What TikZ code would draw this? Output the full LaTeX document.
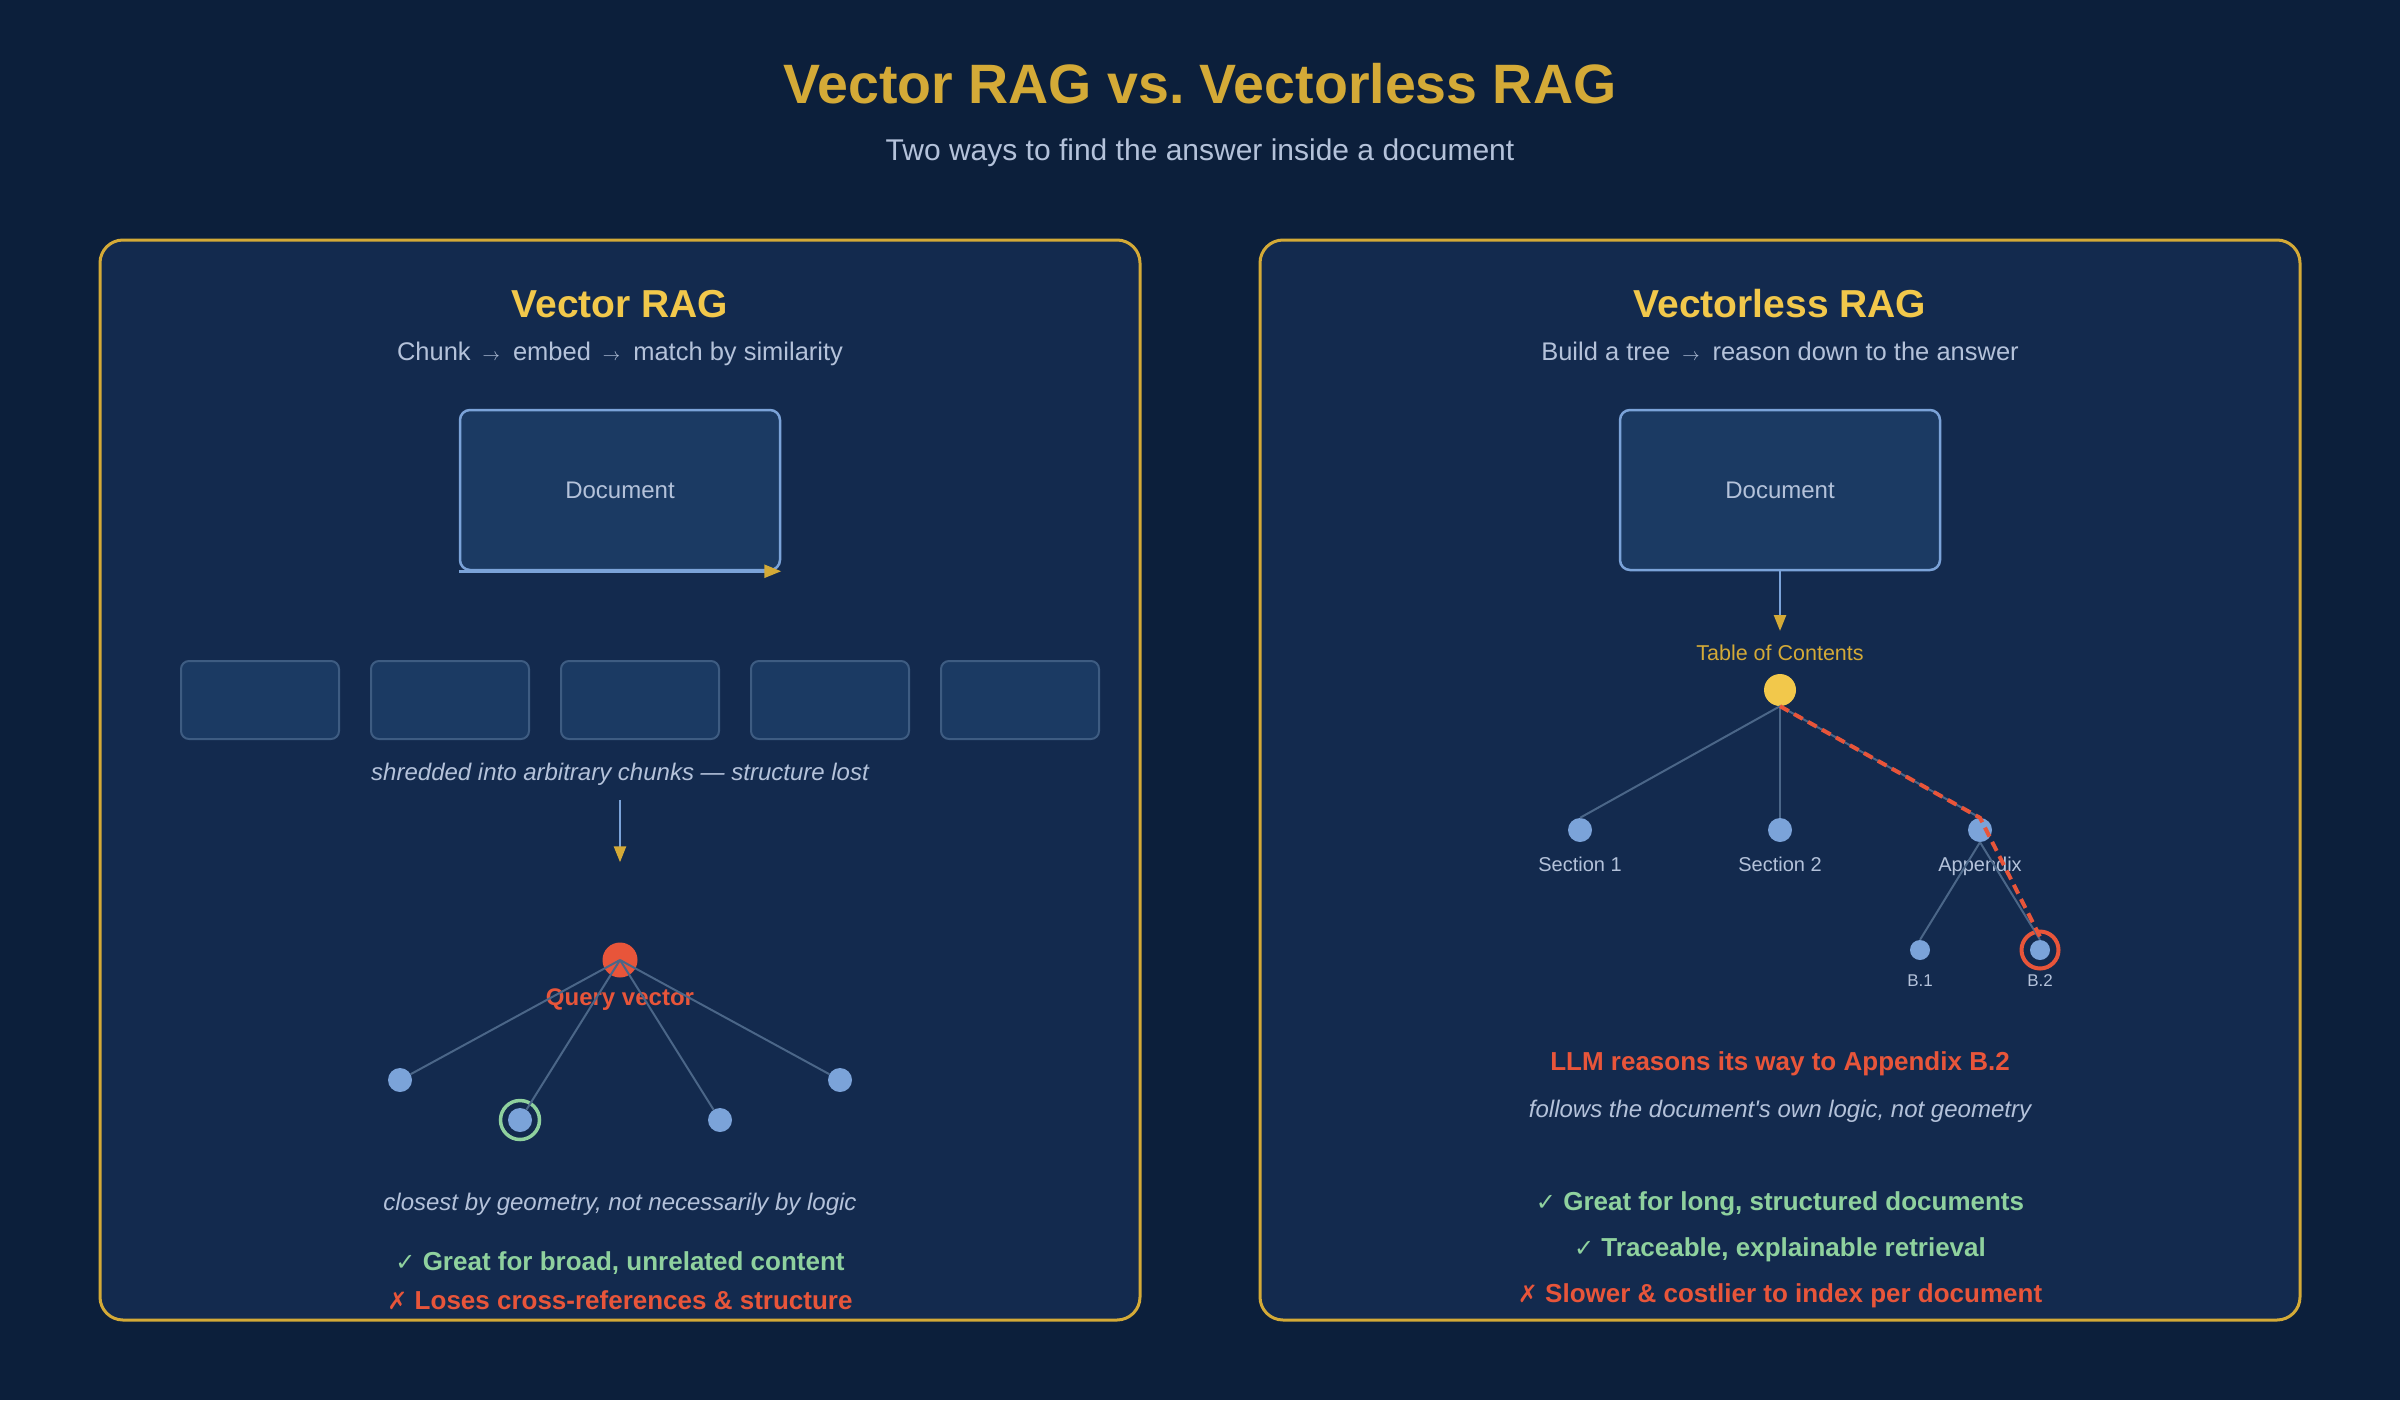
\documentclass[tikz,border=0pt]{standalone}
\usepackage{fontspec}
\setmainfont{Liberation Sans}
\newfontfamily\symfont{DejaVu Sans}
\newfontfamily\nolig{Liberation Sans}
\usetikzlibrary{arrows.meta}
\definecolor{bg}{HTML}{0C1F3B}
\definecolor{panelbg}{HTML}{132A4E}
\definecolor{gold}{HTML}{D4AA37}
\definecolor{ptitle}{HTML}{F2C84B}
\definecolor{muted}{HTML}{B4C2DA}
\definecolor{boxbg}{HTML}{1B3A63}
\definecolor{lblue}{HTML}{7BA3D9}
\definecolor{chunkline}{HTML}{3E5C82}
\definecolor{edgec}{HTML}{4B6688}
\definecolor{redc}{HTML}{E8553A}
\definecolor{greenc}{HTML}{8FD19E}
\newcommand\setfs[1]{\fontsize{#1}{#1}\selectfont}
\newcommand\rarr{\hspace{12pt}{\fontsize{16}{16}\selectfont$\rightarrow$}\hspace{13pt}}
\newcommand\okmark{{\symfont\mdseries\setfs{24}✓}}
\newcommand\nomark{{\symfont\mdseries\setfs{24}✗}}
\frenchspacing
\begin{document}
\begin{tikzpicture}[x=1pt,y=-1pt,
  txt/.style={inner sep=0pt, anchor=base, text=muted},
  panel/.style={draw=gold, line width=3pt, fill=panelbg, rounded corners=23pt, minimum width=1040pt, minimum height=1080pt, inner sep=0pt},
  docbox/.style={draw=lblue, line width=2.5pt, fill=boxbg, rounded corners=10pt, minimum width=320pt, minimum height=160pt, inner sep=0pt, text=muted, font=\setfs{24}},
  chunk/.style={draw=chunkline, line width=2pt, fill=boxbg, rounded corners=8pt, minimum width=158pt, minimum height=78pt, inner sep=0pt},
  leaf/.style={circle, fill=lblue, inner sep=0pt, minimum size=24pt},
  smallleaf/.style={circle, fill=lblue, inner sep=0pt, minimum size=20pt},
  edge/.style={draw=edgec, line width=2pt},
  conn/.style={draw=lblue, line width=2.5pt, -{Triangle[length=16pt,width=12pt,color=gold]}},
  redpath/.style={draw=redc, line width=4pt, dash pattern=on 10pt off 6pt},
]
% background
\fill[bg] (0,0) rectangle (2400,1400);
\useasboundingbox (0,0) rectangle (2400,1400);

% title
\node[txt, text=gold, font=\setfs{55.5}\bfseries] (title) at (1200,103) {Vector RAG vs. Vectorless RAG};
\node[txt, font=\setfs{30}] (subtitle) at (1200,160) {Two ways to find the answer inside a document};

% panels
\node[panel] (pL) at (620,780) {};
\node[panel] (pR) at (1780,780) {};

% ---------------- left panel ----------------
\node[txt, text=ptitle, font=\setfs{39}\bfseries] (tL) at (620,317) {Vector RAG};
\node[txt, font=\setfs{25.5}] (sL) at (620,360) {Chunk\rarr embed\rarr match by similarity};

\node[docbox] (docL) at (620,490) {Document};
\draw[draw=lblue, line width=2.5pt, -{Triangle[length=17pt,width=13pt,color=gold]}] (docL.south west) -- (docL.south east);

\node[chunk] (c1) at (260,700) {};
\node[chunk] (c2) at (450,700) {};
\node[chunk] (c3) at (640,700) {};
\node[chunk] (c4) at (830,700) {};
\node[chunk] (c5) at (1020,700) {};

\node[txt, font=\setfs{24}\itshape] (shred) at (620,780) {shredded into arbitrary chunks — structure lost};

% query vector
\node[circle, fill=redc, inner sep=0pt, minimum size=35pt] (q) at (620,960) {};
\node[txt, text=redc, font=\setfs{24}\bfseries] (qlab) at (620,1005) {Query vector};
\node[leaf] (l1) at (400,1080) {};
\node[circle, draw=greenc, line width=3.5pt, inner sep=0pt, minimum size=39pt] (l2ring) at (520,1120) {};
\node[leaf] (l2) at (520,1120) {};
\node[leaf] (l3) at (720,1120) {};
\node[leaf] (l4) at (840,1080) {};
\draw[edge] (q.center) -- (l1);
\draw[edge] (q.center) -- (l2);
\draw[edge] (q.center) -- (l3);
\draw[edge] (q.center) -- (l4);

\draw[conn] ([yshift=-15pt]shred.south) -- ([yshift=80pt]q.north);

\node[txt, font=\setfs{24}\itshape] (geo) at (620,1210) {closest by geometry, not necessarily by logic};
\node[txt, text=greenc, font=\setfs{26}\bfseries] (proL) at (620,1270) {\okmark{} Great for broad, unrelated content};
\node[txt, text=redc, font=\setfs{26}\bfseries] (conL) at (620,1309) {\nomark{} Loses cross-references \& structure};

% ---------------- right panel ----------------
\node[txt, text=ptitle, font=\setfs{39}\bfseries] (tR) at (1780,317) {Vectorless RAG};
\node[txt, font=\setfs{25.5}] (sR) at (1780,360) {Build a tree\rarr reason down to the answer};

\node[docbox] (docR) at (1780,490) {Document};
\node[txt, text=gold, font=\setfs{21.5}] (toclab) at (1780,660) {Table of Contents};
\draw[conn] (docR.south) -- (1780,631);

\node[circle, fill=ptitle, inner sep=0pt, minimum size=32pt] (toc) at (1780,690) {};
\node[leaf] (s1) at (1580,830) {};
\node[leaf] (s2) at (1780,830) {};
\node[leaf] (app) at (1980,830) {};
\node[smallleaf] (b1) at (1920,950) {};
\node[circle, draw=redc, line width=4pt, inner sep=0pt, minimum size=37pt] (b2ring) at (2040,950) {};
\node[smallleaf] (b2) at (2040,950) {};

\node[txt, font=\setfs{20}] (s1lab) at (1580,871) {Section 1};
\node[txt, font=\setfs{20}] (s2lab) at (1780,871) {Section 2};
\node[txt, font=\setfs{20}] (applab) at (1980,871) {Appendix};
\node[txt, font=\setfs{17}] (b1lab) at (1920,986) {B.1};
\node[txt, font=\setfs{17}] (b2lab) at (2040,986) {B.2};

\draw[edge] (toc.south) -- (s1.north);
\draw[edge] (toc.south) -- (s2.north);
\draw[edge] (toc.south) -- (app.north);
\draw[edge] (app.south) -- (b1.north);
\draw[edge] (app.south) -- (b2.north);
\draw[redpath] (toc.south) -- (app.north) -- ([yshift=3pt]b2.north);

\node[txt, text=redc, font=\setfs{26}\bfseries] (llm) at (1780,1070) {LLM reasons its way to Appendix B.2};
\node[txt, font=\nolig\setfs{24}\itshape] (follows) at (1780,1117) {follows the document's own logic, not geometry};
\node[txt, text=greenc, font=\setfs{26}\bfseries] (proR1) at (1780,1210) {\okmark{} Great for long, structured documents};
\node[txt, text=greenc, font=\setfs{26}\bfseries] (proR2) at (1780,1256) {\okmark{} Traceable, explainable retrieval};
\node[txt, text=redc, font=\setfs{26}\bfseries] (conR) at (1780,1302) {\nomark{} Slower \& costlier to index per document};
\end{tikzpicture}
\end{document}
